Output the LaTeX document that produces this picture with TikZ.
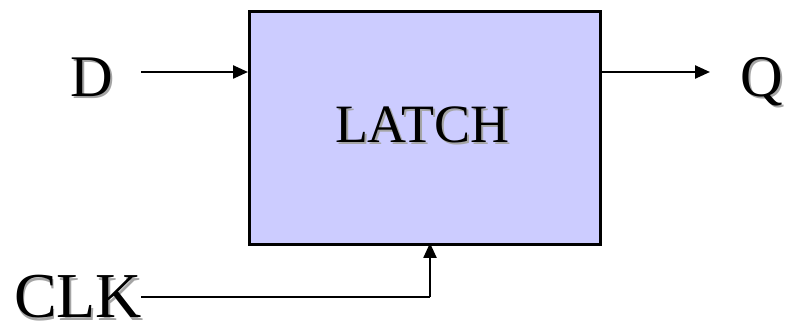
\documentclass[tikz,border=0pt]{standalone}
\usepackage{fontspec}
\setmainfont{Liberation Serif}
\usetikzlibrary{arrows.meta}
\definecolor{latchfill}{RGB}{204,204,255}
\definecolor{shade}{RGB}{165,165,165}
\tikzset{
  wire/.style={line width=2.4pt},
  sig/.style={wire,-{Triangle[length=15pt,width=13pt]}},
  lbl/.style={inner sep=0pt,anchor=base},
}
% text with a soft gray drop shadow
\newcommand{\shadowtext}[4]{%
  \node[lbl,text=shade,font=\fontsize{#4}{#4}\selectfont] at ([shift={(2pt,-2pt)}]#2) {#3};
  \node[lbl,font=\fontsize{#4}{#4}\selectfont] (#1) at (#2) {#3};
}
\begin{document}
\begin{tikzpicture}[x=1pt,y=-1pt]
\useasboundingbox (0,0) rectangle (785,323);
% latch block
\node[draw,line width=2.8pt,fill=latchfill,minimum width=351pt,minimum height=233pt,
      inner sep=0pt,anchor=north west] (latch) at (248,10) {};
\shadowtext{tl}{422,143}{LATCH}{54pt}
% port labels
\shadowtext{d}{92,97}{D}{59pt}
\shadowtext{q}{762,97}{Q}{59pt}
\shadowtext{clk}{78,318}{CLK}{64pt}
% connection points
\coordinate (din) at (141,72);
\coordinate (qout) at (710,72);
\coordinate (cin) at (430,243);
\coordinate (cbend) at (430,297);
\coordinate (cstart) at (141,297);
\draw[sig] (din) -- (din -| latch.west);
\draw[sig] (qout -| latch.east) -- (qout);
\draw[wire] (cstart) -- (cbend);
\draw[sig] (cbend) -- (cin);
\end{tikzpicture}
\end{document}
